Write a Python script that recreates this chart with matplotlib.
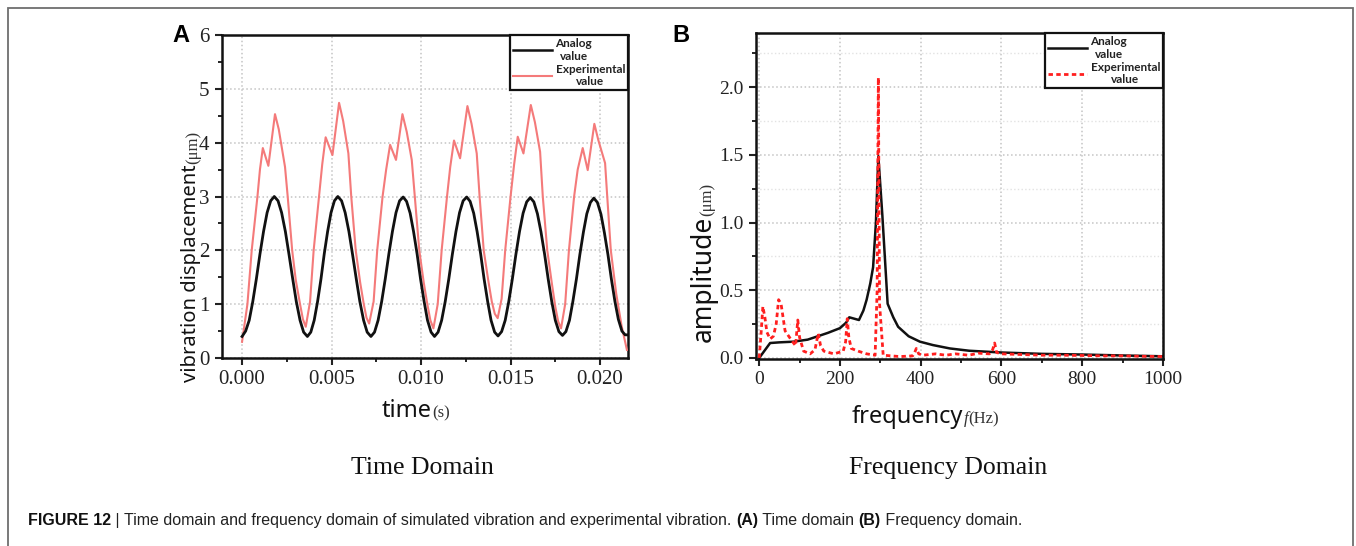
import matplotlib
matplotlib.use('Agg')
import matplotlib.pyplot as plt
from matplotlib.ticker import MultipleLocator, FormatStrFormatter
from matplotlib.lines import Line2D
from matplotlib.patches import Rectangle
from matplotlib import font_manager

# ---------------- data ----------------
# (A) time domain
analog_t = [
    0.0000, 0.0002, 0.0004, 0.0006, 0.0008, 0.0010, 0.0012, 0.0014, 0.0016, 0.0018,
    0.00201, 0.00221, 0.00242, 0.00262, 0.00283, 0.00303, 0.00324, 0.00344, 0.00365,
    0.00384, 0.00403, 0.00422, 0.00441, 0.00459, 0.00478, 0.00497, 0.00516, 0.00535,
    0.00556, 0.00576, 0.00597, 0.00617, 0.00638, 0.00658, 0.00679, 0.00699, 0.0072,
    0.0074, 0.0076, 0.0078, 0.0080, 0.0082, 0.0084, 0.0086, 0.0088, 0.0090,
    0.00919, 0.00939, 0.00958, 0.00978, 0.00997, 0.01017, 0.01036, 0.01056, 0.01075,
    0.01095, 0.01115, 0.01135, 0.01155, 0.01175, 0.01195, 0.01215, 0.01235, 0.01255,
    0.01274, 0.01294, 0.01313, 0.01333, 0.01352, 0.01372, 0.01391, 0.01411, 0.0143,
    0.0145, 0.0147, 0.0149, 0.0151, 0.0153, 0.0155, 0.0157, 0.0159, 0.0161,
    0.0163, 0.0165, 0.0167, 0.0169, 0.0171, 0.0173, 0.0175, 0.0177, 0.0179,
    0.01809, 0.01829, 0.01848, 0.01868, 0.01887, 0.01907, 0.01926, 0.01946, 0.01965,
    0.01985, 0.02005, 0.02024, 0.02044, 0.02063, 0.02083, 0.02102, 0.02122, 0.0214, 0.0216]
analog_v = [
    0.40, 0.50, 0.70, 1.05, 1.47, 1.93, 2.35, 2.70, 2.92, 3.00,
    2.92, 2.70, 2.35, 1.93, 1.47, 1.05, 0.70, 0.48, 0.40,
    0.48, 0.70, 1.05, 1.47, 1.93, 2.35, 2.70, 2.92, 3.00,
    2.92, 2.70, 2.35, 1.93, 1.47, 1.05, 0.70, 0.48, 0.40,
    0.48, 0.70, 1.05, 1.47, 1.93, 2.35, 2.70, 2.92, 2.99,
    2.91, 2.69, 2.35, 1.93, 1.47, 1.05, 0.70, 0.48, 0.40,
    0.48, 0.70, 1.05, 1.47, 1.93, 2.35, 2.70, 2.92, 2.99,
    2.91, 2.69, 2.35, 1.93, 1.47, 1.05, 0.70, 0.48, 0.41,
    0.49, 0.70, 1.05, 1.47, 1.93, 2.35, 2.69, 2.90, 2.98,
    2.90, 2.68, 2.34, 1.93, 1.47, 1.05, 0.70, 0.49, 0.42,
    0.49, 0.70, 1.05, 1.47, 1.92, 2.34, 2.68, 2.89, 2.97,
    2.89, 2.67, 2.33, 1.92, 1.47, 1.05, 0.72, 0.50, 0.43, 0.43]

exp_t = [
    0.0000, 0.0003, 0.00054, 0.00086, 0.0010, 0.00116, 0.00147, 0.00184, 0.00205, 0.0024,
    0.00255, 0.0028, 0.0030, 0.00324, 0.0034, 0.00356,
    0.0038, 0.0040, 0.0043, 0.00448, 0.00467, 0.00505, 0.00542, 0.00565, 0.00594, 0.0061,
    0.00635, 0.0066, 0.0068, 0.00695, 0.0071,
    0.00735, 0.00755, 0.00785, 0.00805, 0.00827, 0.0086, 0.00896, 0.0092, 0.00948, 0.00965,
    0.0099, 0.01015, 0.01035, 0.01052, 0.01069,
    0.01093, 0.01115, 0.01145, 0.01163, 0.01184, 0.01218, 0.01259, 0.01282, 0.01311, 0.01327,
    0.0135, 0.01375, 0.01395, 0.01412, 0.01428,
    0.0145, 0.0147, 0.0150, 0.0152, 0.0154, 0.01572, 0.01613, 0.01636, 0.01665, 0.0168,
    0.01705, 0.0173, 0.0175, 0.01766, 0.01782,
    0.01805, 0.01826, 0.01855, 0.01875, 0.01903, 0.01931, 0.01968, 0.0199, 0.02028, 0.0204,
    0.0206, 0.0209, 0.0212, 0.0215]
exp_v = [
    0.30, 1.0, 2.0, 3.0, 3.5, 3.90, 3.57, 4.53, 4.25, 3.55,
    3.0, 2.0, 1.45, 1.0, 0.72, 0.58,
    1.05, 2.0, 3.0, 3.6, 4.10, 3.77, 4.74, 4.40, 3.80, 3.0,
    2.0, 1.4, 1.0, 0.75, 0.64,
    1.05, 2.0, 3.0, 3.5, 3.96, 3.68, 4.53, 4.2, 3.68, 3.0,
    2.0, 1.4, 1.0, 0.7, 0.55,
    1.0, 2.0, 3.0, 3.55, 4.04, 3.71, 4.68, 4.35, 3.80, 3.0,
    2.0, 1.45, 1.05, 0.82, 0.74,
    1.1, 2.0, 3.0, 3.6, 4.11, 3.80, 4.70, 4.38, 3.83, 3.0,
    2.0, 1.4, 0.95, 0.68, 0.55,
    1.0, 2.0, 3.0, 3.5, 3.90, 3.49, 4.35, 4.05, 3.62, 3.0,
    2.0, 1.2, 0.6, 0.15]

# (B) frequency domain
ana_f = [0, 27, 50, 85, 120, 142, 170, 200, 215, 223, 235, 247, 258, 266, 275, 282, 289,
         295, 305, 318, 332, 344, 370, 398, 430, 472, 520, 600, 700, 800, 900, 1000]
ana_a = [0.0, 0.11, 0.115, 0.12, 0.135, 0.157, 0.185, 0.22, 0.26, 0.30, 0.29, 0.28, 0.35,
         0.43, 0.55, 0.67, 1.0, 1.49, 1.05, 0.40, 0.30, 0.23, 0.16, 0.12, 0.095, 0.07,
         0.053, 0.04, 0.03, 0.025, 0.018, 0.012]

exp_f = [0, 5, 9, 14, 19, 27, 35, 42, 48, 54,
         64, 80, 90, 95.5, 100, 110, 126, 138, 146, 152,
         160, 185, 208, 214, 218, 222, 228, 245, 266, 287,
         292, 295, 298, 307, 348, 380, 385, 389, 395, 405,
         437, 462, 486, 519, 543, 570, 578, 583, 588, 600,
         650, 700, 750, 800, 850, 900, 950, 1000]
exp_a = [0.0, 0.2, 0.38, 0.3, 0.19, 0.14, 0.16, 0.25, 0.43, 0.40,
         0.2, 0.13, 0.09, 0.28, 0.15, 0.05, 0.03, 0.06, 0.18, 0.09,
         0.05, 0.03, 0.05, 0.12, 0.29, 0.15, 0.07, 0.05, 0.03, 0.02,
         0.5, 2.07, 0.4, 0.02, 0.01, 0.015, 0.04, 0.07, 0.03, 0.02,
         0.03, 0.02, 0.03, 0.02, 0.035, 0.03, 0.06, 0.11, 0.04, 0.03,
         0.025, 0.02, 0.02, 0.018, 0.015, 0.015, 0.012, 0.01]

legend_labels = ["Analog\nvalue", "Experimental\nvalue"]

# ---------------- figure ----------------
W, H = 1356, 546
fig = plt.figure(figsize=(W / 100, H / 100), dpi=100)


def fx(x):
    return x / W


def fy(y):
    return 1 - y / H


names = {f.name for f in font_manager.fontManager.ttflist}
SERIF = 'Liberation Serif'
LABEL_SANS = 'Noto Sans'
CAP_SANS = 'Liberation Sans Narrow' if 'Liberation Sans Narrow' in names else 'Liberation Sans'
cap_size = 12.5 if CAP_SANS == 'Liberation Sans Narrow' else 11.5

axA = fig.add_axes([fx(222), fy(358), (628 - 222) / W, (358 - 35) / H])
axB = fig.add_axes([fx(756), fy(359), (1163 - 756) / W, (359 - 33) / H])

RED_A = '#f47a7a'
RED_B = '#ff1f1f'

axA.plot(exp_t, exp_v, color=RED_A, lw=1.5, zorder=3)
axA.plot(analog_t, analog_v, color='#111111', lw=2.0, zorder=4)
axA.set_xlim(-0.00112, 0.02156)
axA.set_ylim(0, 6)
axA.xaxis.set_major_locator(MultipleLocator(0.005))
axA.xaxis.set_minor_locator(MultipleLocator(0.0025))
axA.yaxis.set_major_locator(MultipleLocator(1))
axA.yaxis.set_minor_locator(MultipleLocator(0.5))
axA.xaxis.set_major_formatter(FormatStrFormatter('%.3f'))
axA.yaxis.set_major_formatter(FormatStrFormatter('%d'))
axA.tick_params(which='major', direction='out', length=5, width=1.5,
                labelsize=15, labelfontfamily=SERIF, colors='#222222', pad=4)
axA.tick_params(which='minor', direction='out', length=3, width=1.2)
axA.grid(True, which='major', color='#c4c4c4', ls=':', lw=1.1)

axB.plot(ana_f, ana_a, color='#111111', lw=1.8, zorder=4)
axB.plot(exp_f, exp_a, color=RED_B, lw=2.0, ls=(0, (1.6, 1.2)), zorder=5)
axB.set_xlim(-8, 1000)
axB.set_ylim(-0.008, 2.40)
axB.xaxis.set_major_locator(MultipleLocator(200))
axB.xaxis.set_minor_locator(MultipleLocator(100))
axB.yaxis.set_major_locator(MultipleLocator(0.5))
axB.yaxis.set_minor_locator(MultipleLocator(0.25))
axB.xaxis.set_major_formatter(FormatStrFormatter('%d'))
axB.yaxis.set_major_formatter(FormatStrFormatter('%.1f'))
axB.tick_params(which='major', direction='out', length=5, width=1.5,
                labelsize=14, labelfontfamily=SERIF, colors='#222222', pad=4)
axB.tick_params(which='minor', direction='out', length=3, width=1.2)
axB.grid(True, which='major', color='#c4c4c4', ls=':', lw=1.1)
axB.grid(True, which='minor', axis='y', color='#e2e2e2', ls=':', lw=1.0)

for ax in (axA, axB):
    ax.set_axisbelow(True)
    for s in ax.spines.values():
        s.set_linewidth(1.8)
        s.set_color('#111111')

# legends
for ax, red, ls, lw in ((axA, RED_A, '-', 1.5), (axB, RED_B, (0, (1.6, 1.2)), 2.0)):
    handles = [Line2D([], [], color='#111111', lw=1.8),
               Line2D([], [], color=red, lw=lw, ls=ls)]
    leg = ax.legend(handles, legend_labels, loc='upper right', bbox_to_anchor=(1, 1),
                    borderaxespad=0, fancybox=False, framealpha=1, edgecolor='#111111',
                    prop={'family': 'Lato', 'size': 8.5, 'weight': 'bold'},
                    handlelength=3.3, handletextpad=0.3, labelspacing=0.15,
                    borderpad=0.25)
    leg.get_frame().set_linewidth(1.6)
    for t in leg.get_texts():
        t.set_multialignment('center')
        t.set_color('#222222')

# panel letters
fig.text(fx(181), fy(36), 'A', ha='center', va='center', fontsize=17,
         fontweight='bold', family='Liberation Sans')
fig.text(fx(681), fy(36), 'B', ha='center', va='center', fontsize=17,
         fontweight='bold', family='Liberation Sans')

fig.canvas.draw()
renderer = fig.canvas.get_renderer()


def hrow(parts, x, y):
    """place text parts left to right starting at pixel x, baseline pixel y"""
    for s, kw in parts:
        t = fig.text(fx(x), fy(y), s, ha='left', va='baseline', **kw)
        bb = t.get_window_extent(renderer)
        x += bb.width
    return x


def vrow(parts, x, y):
    """place rotated text parts bottom to top starting at pixel y (bottom)"""
    for s, kw, dx in parts:
        t = fig.text(fx(x + dx), fy(y), s, ha='center', va='bottom', rotation=90, **kw)
        bb = t.get_window_extent(renderer)
        y -= bb.height
    return y


# axis labels
hrow([('time', dict(family=LABEL_SANS, fontsize=17, color='#111111')),
      ('(s)', dict(family=SERIF, fontsize=12, color='#333333'))], 382, 417)
hrow([('frequency', dict(family=LABEL_SANS, fontsize=17, color='#111111')),
      ('f', dict(family=SERIF, fontsize=12, style='italic', color='#333333')),
      ('(Hz)', dict(family=SERIF, fontsize=12, color='#333333'))], 852, 423)
vrow([('vibration displacement', dict(family=LABEL_SANS, fontsize=14.5, color='#111111'), 2),
      ('(μm)', dict(family=SERIF, fontsize=12, color='#333333'), 4)], 189, 382)
vrow([('amplitude', dict(family=LABEL_SANS, fontsize=19, color='#111111'), 0),
      ('(μm)', dict(family=SERIF, fontsize=12, color='#333333'), 3)], 704, 342)

# sub titles
fig.text(fx(422), fy(468), 'Time Domain', ha='center', va='center', fontsize=18.5,
         family=SERIF, color='#111111')
fig.text(fx(948), fy(468), 'Frequency Domain', ha='center', va='center', fontsize=18.5,
         family=SERIF, color='#111111')

# caption
regular = dict(family=CAP_SANS, fontsize=cap_size, color='#222222')
bold = dict(family=CAP_SANS, fontsize=cap_size, fontweight='bold', color='#111111')
hrow([('FIGURE 12', bold), (' | ', regular),
      ('Time domain and frequency domain of simulated vibration and experimental vibration. ', regular),
      ('(A)', bold), (' Time domain ', regular), ('(B)', bold), (' Frequency domain.', regular)],
     28, 525)

# outer border
fig.patches.append(Rectangle((fx(8), fy(600)), (1353 - 8) / W, (600 - 8) / H,
                             transform=fig.transFigure, fill=False,
                             edgecolor='#6e6e6e', lw=1.3))

fig.savefig('out.png', dpi=100)
